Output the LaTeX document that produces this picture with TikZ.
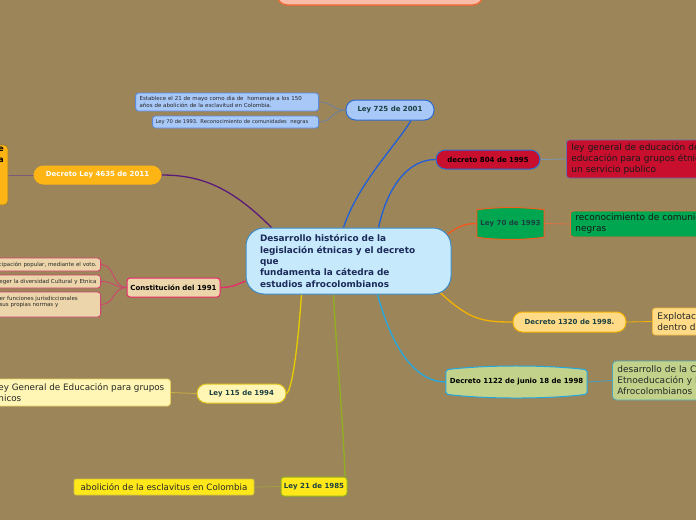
\documentclass[tikz,border=0pt]{standalone}
\usepackage{fontspec}
\setmainfont{DejaVu Sans}
\usetikzlibrary{calc}
\pgfdeclarelayer{bgl}\pgfdeclarelayer{links}
\pgfsetlayers{bgl,links,main}
\definecolor{bgc}{HTML}{9D855A}
\definecolor{cenF}{HTML}{C6EAFB}\definecolor{cenD}{HTML}{3D8BC9}\definecolor{cenT}{HTML}{1B2A5A}
\definecolor{tdark}{HTML}{1D4040}
\definecolor{topF}{HTML}{F9BCA8}\definecolor{topD}{HTML}{E86C38}
\definecolor{bluF}{HTML}{A8C8F8}\definecolor{bluD}{HTML}{2E6BD0}\definecolor{bluE}{HTML}{5A8AE0}\definecolor{bluL}{HTML}{1F5FD8}\definecolor{bluC}{HTML}{6A80A0}
\definecolor{orgF}{HTML}{FDB515}\definecolor{orgE}{HTML}{9A7A30}\definecolor{purL}{HTML}{5A1A7A}\definecolor{purC}{HTML}{7A5A7A}
\definecolor{whtF}{HTML}{ECD5AA}\definecolor{pnkD}{HTML}{E8286A}\definecolor{pnkC}{HTML}{D04070}
\definecolor{ylwF}{HTML}{FFF6B5}\definecolor{ylwD}{HTML}{E2C51A}\definecolor{ylwL}{HTML}{E6CC00}\definecolor{ylwC}{HTML}{C8B040}\definecolor{ylwE}{HTML}{E8D060}
\definecolor{yelF}{HTML}{FFE81A}\definecolor{grnD}{HTML}{90B020}\definecolor{yelE}{HTML}{D0C040}\definecolor{yelC}{HTML}{A0A040}
\definecolor{redF}{HTML}{C8102E}\definecolor{redE}{HTML}{6870A8}\definecolor{redC}{HTML}{7898B8}
\definecolor{gnF}{HTML}{00A650}\definecolor{gnD}{HTML}{F06020}\definecolor{gnC}{HTML}{E07040}\definecolor{gnL}{HTML}{F2581E}
\definecolor{peF}{HTML}{FFDB87}\definecolor{peD}{HTML}{F5B300}\definecolor{peE}{HTML}{F0B840}
\definecolor{olF}{HTML}{C3D28A}\definecolor{olD}{HTML}{24A8E0}\definecolor{olE}{HTML}{50A8B8}\definecolor{olC}{HTML}{40A0C8}
\begin{document}
\begin{tikzpicture}[x=1pt,y=-1pt,
  lab/.style={inner sep=0pt, align=center, font=\fontsize{7}{8}\selectfont\bfseries, text=tdark},
  pill/.style={lab, rounded corners=9.5pt, line width=1pt},
  sq/.style={lab, rounded corners=3pt, line width=1pt},
  kid/.style={inner sep=0pt, inner xsep=4pt, align=left, rounded corners=3pt, line width=0.8pt, font=\fontsize{9}{11}\selectfont},
  tiny/.style={inner sep=0pt, inner xsep=4pt, rounded corners=3pt, line width=0.8pt, font=\fontsize{5.5}{7}\selectfont, text=black!85},
  mainlink/.style={line width=1.3pt},
  kidlink/.style={line width=0.8pt}]
\useasboundingbox (0,0) rectangle (696,520);
\clip (0,0) rectangle (696,520);
\begin{pgfonlayer}{bgl}\fill[bgc] (0,0) rectangle (696,520);\end{pgfonlayer}

% top partial node
\node[draw=topD, fill=topF, line width=1.5pt, rounded corners=10pt, minimum width=206pt, minimum height=26pt] (top) at (380,-8) {};

% central
\node[draw=cenD, fill=cenF, line width=1pt, rounded corners=18pt, minimum width=205pt, minimum height=66pt,
  inner xsep=14pt, text width=177pt, align=left, text=cenT, font=\fontsize{8.9}{11.3}\selectfont\bfseries] (cen) at (348.5,261)
  {Desarrollo histórico de la\\legislación étnicas y el decreto\\que\\fundamenta la cátedra de\\estudios afrocolombianos};

% Ley 725
\node[pill, draw=bluD, fill=bluF, minimum width=88pt, minimum height=20pt] (L725) at (390,110) {Ley 725 de 2001};
\node[tiny, draw=bluE, fill=bluF, anchor=east, minimum height=18pt, text width=175pt, align=left] (A1) at (319,102)
  {Establece el 21 de mayo como dia de~ homenaje a los 150\\años de abolición de la esclavitud en Colombia.};
\node[tiny, draw=bluE, fill=bluF, anchor=east, minimum height=12pt, inner xsep=3pt, text width=160pt, align=left, font=\fontsize{5.2}{7}\selectfont] (A2) at (319,122)
  {Ley 70 de 1993. Reconocimiento de comunidades~ negras};

% Decreto Ley 4635
\node[pill, draw=orgF, fill=orgF, text=white, minimum width=127pt, minimum height=18pt] (D4635) at (97.5,175) {Decreto Ley 4635 de 2011};
\node[draw=orgE, fill=orgF, rounded corners=4pt, line width=0.8pt, minimum width=38pt, minimum height=60pt] (E1) at (-11,175) {};
\node[anchor=north east, inner sep=0pt, align=right, font=\fontsize{8}{11}\selectfont\bfseries, text=black] (E1t) at (4,147) {e\\a};

% Constitucion
\node[sq, draw=pnkD, fill=whtF, text=black, minimum width=93pt, minimum height=19pt] (C91) at (173.5,287.5) {Constitución del 1991};
\node[tiny, draw=pnkC, fill=whtF, anchor=east, minimum height=13pt, text width=124pt, align=right] (K1) at (101,264.5) {icipación popular, mediante el voto.};
\node[tiny, draw=pnkC, fill=whtF, anchor=east, minimum height=13pt, text width=124pt, align=right] (K2) at (101,281.5) {teger la diversidad Cultural y Etnica};
\node[tiny, draw=pnkC, fill=whtF, anchor=east, minimum height=25pt, text width=100pt, align=left, font=\fontsize{5.5}{6}\selectfont] (K3) at (101,304.5) {cer funciones jurisdiccionales\\\hspace*{3pt}sus propias normas y\\\mbox{}};

% Ley 115
\node[pill, draw=ylwD, fill=ylwF, minimum width=89pt, minimum height=19pt] (L115) at (241.5,393.5) {Ley 115 de 1994};
\node[kid, draw=ylwE, fill=ylwF, anchor=west, minimum width=178pt, minimum height=27pt, text=black!85, font=\fontsize{8.8}{11}\selectfont] (Y1) at (-8,392.5) {ey General de Educación para grupos\\nicos};

% Ley 21
\node[sq, draw=grnD, fill=yelF, minimum width=66pt, minimum height=19pt] (L21) at (314,486.5) {Ley 21 de 1985};
\node[kid, draw=yelE, fill=yelF, rounded corners=2pt, minimum width=180pt, minimum height=16pt, inner xsep=2pt, text=black!85, font=\fontsize{8.7}{11}\selectfont] (Y2) at (164,487) {abolición de la esclavitus en Colombia};

% decreto 804
\node[pill, draw=bluD, fill=redF, text=black, minimum width=104pt, minimum height=19pt] (D804) at (488,159.5) {decreto 804 de 1995};
\node[kid, draw=redE, fill=redF, anchor=west, minimum height=38pt, text width=160pt, inner xsep=5pt, text=black!90] (R1) at (566,159)
  {ley general de educación de\\educación para grupos étnic\\un servicio publico};

% Ley 70
\node[lab, minimum width=67pt, minimum height=27pt] (L70) at (510.5,223.5) {Ley 70 de 1993};
\node[kid, draw=gnC, fill=gnF, anchor=west, minimum height=26pt, text width=160pt, inner xsep=5pt, text=black!90] (G1) at (570,224)
  {reconocimiento de comunic\\negras};

% Decreto 1320
\node[pill, draw=peD, fill=peF, minimum width=113pt, minimum height=20pt] (D1320) at (569.5,322) {Decreto 1320 de 1998.};
\node[kid, draw=peE, fill=peF, anchor=west, minimum height=27pt, text width=80pt, inner xsep=5pt, text=black!85] (P1) at (652,321.5)
  {Explotaci\\dentro de};

% Decreto 1122
\node[lab, text=black, minimum width=141pt, minimum height=24pt] (D1122) at (516.5,382) {Decreto 1122 de junio 18 de 1998};
\node[kid, draw=olE, fill=olF, rounded corners=4pt, anchor=west, minimum height=39pt, text width=100pt, inner xsep=5pt, text=black!85] (O1) at (612,380.5)
  {desarrollo de la C\\Etnoeducación y E\\Afrocolombianos};

\begin{pgfonlayer}{links}
% tape-shaped nodes
\filldraw[fill=gnF, draw=gnD, line width=1pt] (L70.south west) -- (L70.north west)
  .. controls ($(L70.north west)+(20,-3)$) and ($(L70.north east)+(-20,-3)$) .. (L70.north east)
  -- (L70.south east) .. controls ($(L70.south east)+(-20,3)$) and ($(L70.south west)+(20,3)$) .. cycle;
\filldraw[fill=olF, draw=olD, line width=1pt, rounded corners=2pt] (D1122.south west) -- (D1122.north west)
  .. controls ($(D1122.north west)+(40,-5)$) and ($(D1122.north east)+(-40,-5)$) .. (D1122.north east)
  -- (D1122.south east) .. controls ($(D1122.south east)+(-40,5)$) and ($(D1122.south west)+(40,5)$) .. cycle;

% main links (yshift is in canvas units: negative = downwards on the page)
\draw[mainlink, bluL] ([xshift=-5pt]cen.north) .. controls +(15,-45) and +(-15,25) .. ([xshift=21pt]L725.south);
\draw[mainlink, bluL] ([xshift=30pt]cen.north) .. controls +(10,-45) and +(-25,0) .. (D804.west);
\draw[mainlink, gnL] ([xshift=-10pt,yshift=23pt]cen.east) .. controls +(15,-10) and +(-15,0) .. (L70.west);
\draw[mainlink, peD] ([xshift=-12pt,yshift=-31pt]cen.east) .. controls +(30,28) and +(-30,0) .. (D1320.west);
\draw[mainlink, olD] ([xshift=29pt]cen.south) .. controls +(15,55) and +(-30,0) .. (D1122.west);
\draw[mainlink, grnD] ([xshift=-15pt]cen.south) .. controls +(3,60) and +(-2,-60) .. ([xshift=31pt]L21.north);
\draw[mainlink, ylwL] ([xshift=-47pt]cen.south) .. controls +(-5,70) and +(4,-2) .. (L115.east);
\draw[mainlink, pnkD] ([yshift=-20pt]cen.west) .. controls +(-12,5) and +(10,0) .. (C91.east);
\draw[mainlink, purL] ([xshift=-77pt]cen.north) .. controls +(-40,-40) and +(40,0) .. (D4635.east);

% child links
\draw[kidlink, bluC] (L725.west) .. controls +(-14,0) and +(14,0) .. (A1.east);
\draw[kidlink, bluC] (L725.west) .. controls +(-14,0) and +(14,0) .. (A2.east);
\draw[kidlink, purC] (D4635.west) -- (E1.east);
\draw[kidlink, pnkC] (C91.west) .. controls +(-14,0) and +(14,0) .. (K1.east);
\draw[kidlink, pnkC] (C91.west) .. controls +(-14,0) and +(14,0) .. (K2.east);
\draw[kidlink, pnkC] (C91.west) .. controls +(-14,0) and +(14,0) .. (K3.east);
\draw[kidlink, ylwC] (L115.west) -- (Y1.east);
\draw[kidlink, yelC] (L21.west) -- (Y2.east);
\draw[kidlink, redC] (D804.east) -- (R1.west);
\draw[kidlink, gnC] (L70.east) -- (G1.west);
\draw[kidlink, peD] (D1320.east) -- (P1.west);
\draw[kidlink, olC] (D1122.east) -- (O1.west);
\end{pgfonlayer}
\end{tikzpicture}
\end{document}
